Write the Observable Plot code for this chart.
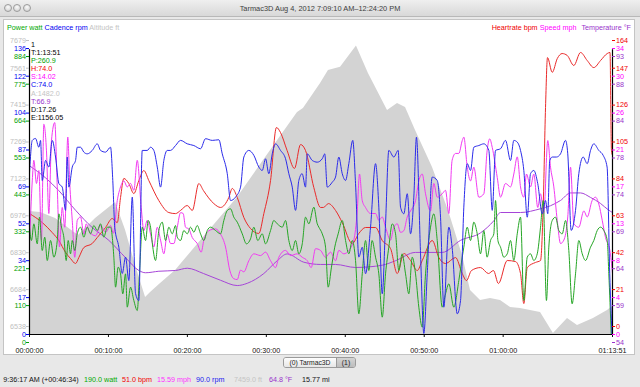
<!DOCTYPE html>
<html><head><meta charset="utf-8">
<script src="https://cdn.jsdelivr.net/npm/d3@7"></script>
<script src="https://cdn.jsdelivr.net/npm/@observablehq/plot@0.6"></script>
<style>
html,body{margin:0;padding:0;}
body{width:640px;height:387px;position:relative;overflow:hidden;background:#e8e8e8;font-family:"Liberation Sans",Arial,sans-serif;font-size:7.2px;}
.abs{position:absolute;white-space:nowrap;line-height:1;}
#titlebar{position:absolute;left:0;top:0;width:640px;height:16px;background:linear-gradient(#efefef,#d8d8d8);border-bottom:1px solid #b8b8b8;}
.dot{position:absolute;top:3.5px;width:6px;height:6px;border-radius:50%;border:0.6px solid #9c9c9c;background:radial-gradient(circle at 50% 35%,#fafafa,#cbcbcb);}
#panel{position:absolute;left:3px;top:19px;width:632px;height:336px;background:#fff;border:1px solid #c4c4c4;box-sizing:border-box;}
#tabs{position:absolute;left:283px;top:357px;width:73px;height:11px;border:1px solid #9a9a9a;border-radius:3px;box-sizing:border-box;overflow:hidden;display:flex;font-size:6.8px;color:#222;}
#tabs div{display:flex;align-items:center;justify-content:center;height:100%;}
#plotwrap svg{position:absolute;left:0;top:0;}
</style></head>
<body>
<div id="titlebar">
  <div class="dot" style="left:4px"></div>
  <div class="dot" style="left:13.3px"></div>
  <div class="dot" style="left:22.7px"></div>
  <div class="abs" style="left:0;width:640px;top:4.5px;text-align:center;color:#404040;font-size:7.4px;">Tarmac3D Aug 4, 2012 7:09:10 AM–12:24:20 PM</div>
</div>
<div id="panel"></div>
<div class="abs" style="left:7px;top:24px;"><span style="color:#00a800">Power watt</span> <span style="color:#0000f0">Cadence rpm</span> <span style="color:#c4c4c4">Altitude ft</span></div>
<div class="abs" style="right:9px;top:24px;"><span style="color:#f00000">Heartrate bpm</span> <span style="color:#ff00ff">Speed mph</span> <span style="color:#9933cc;margin-left:3px">Temperature °F</span></div>
<div id="plotwrap"></div>
<div id="info" class="abs" style="left:31px;top:41px;line-height:8.1px;"></div>
<div id="tabs"><div style="width:52px;background:linear-gradient(#fdfdfd,#e6e6e6);border-right:1px solid #9a9a9a;">(0) Tarmac3D</div><div style="flex:1;background:linear-gradient(#d4d4d4,#bcbcbc);">(1)</div></div>
<div id="status"></div>
<script>
// ---- data: [seconds elapsed, value] ----
const altitude = [[0,7025],[84,7021],[198,6997],[372,6930],[502,6997],[654,7060],[730,6950],[806,6811],[882,6684],[920,6704],[996,6740],[1110,6791],[1322,6922],[1581,7080],[1832,7266],[2037,7416],[2082,7432],[2212,7531],[2272,7583],[2364,7595],[2485,7679],[2576,7571],[2721,7424],[2797,7452],[2858,7436],[2934,7345],[3063,7199],[3184,7029],[3291,6851],[3352,6712],[3428,6673],[3504,6680],[3580,6673],[3656,6645],[3732,6641],[3884,6625],[3982,6542],[4089,6601],[4165,6574],[4286,6601],[4393,6633],[4431,6649]];

const heartrate = [[0,68.8],[97,63.7],[173,58.0],[223,53.5],[274,46.7],[312,43.2],[350,40.4],[375,43.8],[413,49.5],[477,51.8],[515,55.2],[578,60.9],[629,66.0],[667,63.7],[692,78.0],[717,88.8],[755,85.9],[793,80.2],[831,87.6],[869,93.3],[907,87.6],[983,76.2],[1059,69.4],[1110,68.8],[1148,70.6],[1199,73.4],[1237,70.6],[1287,85.9],[1322,81.9],[1401,74.5],[1452,72.3],[1515,78.0],[1541,83.1],[1579,78.0],[1629,66.6],[1680,60.3],[1743,57.5],[1781,68.8],[1832,87.6],[1877,117.8],[1908,114.9],[1958,104.7],[2014,94.5],[2060,108.1],[2098,104.7],[2161,83.6],[2212,72.3],[2234,72.3],[2272,74.5],[2326,70.6],[2377,63.7],[2453,51.8],[2503,57.5],[2554,60.9],[2630,60.9],[2681,53.5],[2744,48.9],[2795,34.7],[2845,46.1],[2896,42.1],[2947,36.4],[2985,42.1],[3061,53.5],[3111,43.8],[3162,40.4],[3238,43.8],[3289,34.7],[3321,30.7],[3359,36.4],[3428,38.1],[3488,34.7],[3526,36.4],[3564,29.0],[3631,42.1],[3694,41.5],[3732,34.7],[3757,17.6],[3783,38.1],[3846,41.0],[3884,42.1],[3904,72.3],[3922,129.2],[3937,157.6],[3973,149.2],[4011,157.0],[4048,159.9],[4087,158.8],[4137,153.1],[4188,160.5],[4239,155.9],[4289,151.9],[4340,155.9],[4391,159.9],[4412,160.5],[4423,104.7],[4431,101.9]];

const temperature = [[0,76.4],[122,74.8],[223,73.1],[350,70.5],[477,68.2],[603,66.5],[730,64.2],[831,62.5],[882,62.2],[983,62.4],[1110,62.5],[1199,62.8],[1322,62.1],[1452,61.2],[1579,60.5],[1655,60.8],[1781,62.1],[1883,63.8],[1958,64.7],[2085,63.6],[2212,63.3],[2326,63.3],[2478,62.9],[2681,63.2],[2782,63.8],[2934,64.9],[3137,64.9],[3276,66.5],[3428,67.5],[3529,69.1],[3580,70.2],[3732,70.2],[3884,70.7],[3960,71.1],[4036,71.8],[4112,72.8],[4188,72.8],[4264,72.2],[4340,71.4],[4403,70.5],[4431,70.2]];

const cadence = [[0,75.5],[21,91.0],[46,91.9],[71,87.8],[84,91.0],[97,72.2],[122,81.6],[147,78.5],[173,91.0],[198,83.2],[223,70.8],[249,69.1],[274,58.2],[287,83.2],[299,69.1],[325,78.5],[350,81.6],[363,87.8],[388,87.8],[413,85.5],[439,84.7],[477,86.3],[515,89.4],[540,86.3],[578,85.5],[616,87.8],[633,72.2],[648,50.3],[679,40.9],[705,28.6],[730,36.3],[755,25.3],[781,64.4],[806,19.2],[831,15.9],[857,86.3],[895,86.3],[920,87.8],[945,86.3],[971,78.5],[996,69.1],[1021,81.6],[1047,86.3],[1072,86.3],[1110,88.6],[1148,91.0],[1199,89.4],[1249,88.6],[1300,87.1],[1338,91.8],[1389,91.0],[1439,91.3],[1465,84.7],[1503,75.4],[1528,62.8],[1566,64.4],[1604,69.1],[1629,83.2],[1667,86.3],[1705,84.0],[1743,78.5],[1769,76.9],[1794,82.4],[1819,75.4],[1845,84.7],[1870,89.4],[1908,86.3],[1946,82.4],[1971,75.4],[1997,69.1],[2022,58.2],[2047,72.2],[2072,75.4],[2098,69.1],[2111,84.7],[2149,81.6],[2187,80.8],[2225,82.4],[2244,84.7],[2263,69.1],[2301,71.4],[2326,73.8],[2351,83.2],[2377,75.4],[2402,72.2],[2427,80.1],[2457,91.0],[2478,70.7],[2503,36.3],[2529,40.9],[2554,28.5],[2592,50.3],[2630,80.1],[2655,59.7],[2681,19.1],[2706,51.9],[2731,86.3],[2769,83.2],[2802,86.3],[2820,59.7],[2845,56.6],[2871,66.0],[2896,47.2],[2921,64.4],[2941,92.5],[2972,37.8],[2997,0.5],[3023,28.5],[3061,73.8],[3099,72.2],[3124,55.0],[3149,12.8],[3187,50.3],[3212,40.9],[3251,9.7],[3276,15.9],[3301,59.7],[3327,80.1],[3352,76.9],[3377,87.8],[3415,88.6],[3453,89.4],[3491,86.3],[3517,58.2],[3542,86.3],[3580,87.1],[3618,91.0],[3656,81.6],[3681,91.0],[3707,90.2],[3732,86.3],[3757,76.9],[3783,55.0],[3808,75.4],[3833,76.9],[3863,70.7],[3897,56.6],[3922,62.8],[3939,56.6],[3954,81.6],[3973,83.2],[4005,83.2],[4036,84.7],[4074,91.0],[4091,84.7],[4117,48.8],[4150,58.2],[4175,75.4],[4208,83.2],[4239,80.1],[4264,86.3],[4289,89.4],[4327,86.3],[4360,84.0],[4390,78.5],[4410,28.5],[4427,0.5]];

const speed = [[0,10.6],[21,17.9],[33,20.3],[53,17.6],[71,19.1],[91,11.0],[109,24.5],[129,21.4],[147,14.1],[167,22.6],[192,24.7],[211,17.2],[228,10.2],[249,14.8],[268,12.5],[291,23.0],[306,17.6],[325,13.3],[344,9.0],[363,13.3],[388,13.7],[413,11.7],[431,12.9],[451,12.1],[502,11.5],[540,12.7],[578,11.9],[616,12.7],[638,11.8],[667,15.6],[692,17.2],[717,17.9],[743,17.2],[768,17.6],[793,16.8],[819,20.3],[849,14.8],[869,12.1],[895,13.3],[920,11.7],[945,10.2],[971,12.5],[996,11.0],[1021,9.4],[1047,11.7],[1072,10.6],[1097,10.6],[1123,12.5],[1148,14.2],[1168,14.1],[1186,12.5],[1211,12.3],[1237,11.3],[1275,10.6],[1305,9.6],[1325,11.0],[1363,12.1],[1414,12.3],[1452,11.7],[1490,10.2],[1522,7.5],[1553,6.5],[1579,6.4],[1604,7.5],[1629,7.3],[1667,8.6],[1705,9.4],[1756,9.2],[1794,9.6],[1832,8.6],[1870,7.8],[1895,9.0],[1946,9.8],[1984,9.2],[2035,9.4],[2073,9.0],[2111,8.6],[2141,7.8],[2174,10.0],[2212,9.8],[2250,9.0],[2288,9.6],[2326,8.6],[2351,9.8],[2389,9.4],[2427,9.8],[2465,11.0],[2491,14.4],[2508,18.7],[2529,15.6],[2554,14.8],[2592,14.1],[2630,14.1],[2655,13.3],[2681,13.7],[2706,12.5],[2744,11.0],[2769,12.5],[2795,12.9],[2820,11.9],[2845,12.1],[2871,13.7],[2896,14.4],[2934,15.6],[2959,17.9],[2985,18.7],[3010,16.4],[3048,14.4],[3073,17.6],[3099,16.0],[3137,16.4],[3162,16.8],[3187,14.1],[3212,20.3],[3238,21.1],[3263,21.1],[3289,22.6],[3301,23.0],[3327,19.5],[3352,17.9],[3377,19.5],[3415,16.0],[3453,16.4],[3478,21.4],[3498,22.8],[3517,21.8],[3555,18.3],[3580,16.0],[3618,17.6],[3656,17.2],[3681,18.7],[3707,20.7],[3732,17.2],[3757,16.0],[3777,18.7],[3808,17.2],[3833,18.7],[3863,14.8],[3884,16.4],[3909,14.1],[3939,22.6],[3960,19.5],[3985,17.2],[4011,13.3],[4036,10.6],[4061,11.0],[4091,13.7],[4112,19.5],[4137,12.9],[4175,12.5],[4213,14.4],[4239,13.7],[4276,15.6],[4302,16.0],[4327,15.2],[4353,13.3],[4378,11.3],[4411,9.8],[4431,7.1]];

const power = [[0,322],[15,282],[33,332],[59,272],[76,352],[97,252],[116,292],[135,222],[160,282],[185,232],[211,282],[223,362],[243,322],[261,292],[279,222],[294,282],[312,242],[325,282],[344,252],[363,302],[388,322],[413,292],[439,322],[464,302],[489,327],[515,312],[540,332],[565,292],[591,322],[616,322],[641,232],[654,142],[674,202],[692,182],[709,122],[730,182],[743,82],[768,142],[793,102],[819,72],[836,182],[857,322],[882,282],[902,342],[920,322],[937,262],[958,222],[983,312],[1009,337],[1034,282],[1059,322],[1085,302],[1110,327],[1123,292],[1148,282],[1173,312],[1199,302],[1224,322],[1249,307],[1275,327],[1300,302],[1325,282],[1351,312],[1376,322],[1414,312],[1452,302],[1477,342],[1503,372],[1528,377],[1553,352],[1579,337],[1617,302],[1649,272],[1680,287],[1705,322],[1735,282],[1769,302],[1794,272],[1832,312],[1857,342],[1883,332],[1921,322],[1946,342],[1971,282],[1997,252],[2022,282],[2047,242],[2073,272],[2098,352],[2123,332],[2161,382],[2187,332],[2199,322],[2225,302],[2250,262],[2270,142],[2295,202],[2320,262],[2346,302],[2377,342],[2402,282],[2427,242],[2453,282],[2478,222],[2503,62],[2529,182],[2554,282],[2579,192],[2604,282],[2630,232],[2655,182],[2681,52],[2706,182],[2731,262],[2757,332],[2782,302],[2807,192],[2832,242],[2858,182],[2883,122],[2909,232],[2934,182],[2959,82],[2985,22],[3010,182],[3048,322],[3073,362],[3099,282],[3137,82],[3162,122],[3187,152],[3225,82],[3263,162],[3289,232],[3301,262],[3327,322],[3352,282],[3377,337],[3403,302],[3428,242],[3453,312],[3478,232],[3504,282],[3529,302],[3542,402],[3560,282],[3580,262],[3605,232],[3631,242],[3656,282],[3681,222],[3707,302],[3732,352],[3757,102],[3783,232],[3808,242],[3833,222],[3859,242],[3884,322],[3904,402],[3929,102],[3947,262],[3973,342],[3998,352],[4023,312],[4049,302],[4074,342],[4099,252],[4124,92],[4150,182],[4175,282],[4201,242],[4226,222],[4264,262],[4289,282],[4315,312],[4340,322],[4365,312],[4391,282],[4403,182],[4421,3]];

// ---- axis tick labels ----
const altitudeTicks    = [6538, 6684, 6830, 6976, 7123, 7269, 7415, 7561, 7679];
const cadenceTicks     = [0, 17, 34, 52, 69, 87, 104, 122, 136];
const powerTicks       = [0, 110, 221, 332, 443, 553, 664, 775, 884];
const heartrateTicks   = [0, 21, 42, 63, 84, 105, 126, 147, 164];
const speedTicks       = [0, 4, 8, 13, 17, 21, 26, 30, 34];
const temperatureTicks = [54, 59, 64, 69, 74, 78, 84, 88, 93];

const timeTicks      = [0, 600, 1200, 1800, 2400, 3000, 3600, 4431];
const timeTickLabels = ["00:00:00","00:10:00","00:20:00","00:30:00","00:40:00","00:50:00","01:00:00","01:13:51"];

const infoLines  = ["1","T:1:13:51","P:260.9","H:74.0","S:14.02","C:74.0","A:1482.0","T:66.9","D:17.26","E:1156.05"];
const infoColors = ["#000","#000","#00a000","#f00000","#ff00ff","#0000f0","#c4c4c4","#9933cc","#000","#000"];

const statusItems  = ["9:36:17 AM (+00:46:34)","190.0 watt","51.0 bpm","15.59 mph","90.0 rpm","7459.0 ft","64.8 °F","15.77 mi"];
const statusColors = ["#111","#00a800","#f00000","#ff30ff","#2020f0","#c4c4c4","#9933cc","#111"];
const statusX      = [3.3, 84, 122, 157, 196, 234, 269, 302];

// ---- axis definitions (value at bottom tick, value per tick interval) ----
const axes = {
  altitude:    {lo: 6538, step: 146,   color: "#d3d3d3", label: "#c0c0c0"},
  cadence:     {lo: 0,    step: 17.3,  color: "#2b2bea", label: "#0000f0"},
  power:       {lo: 0,    step: 110.7, color: "#25a625", label: "#00a000"},
  heartrate:   {lo: 0,    step: 21,    color: "#ea2a2a", label: "#f00000"},
  speed:       {lo: 0,    step: 4.3,   color: "#f23af2", label: "#ff00ff"},
  temperature: {lo: 54,   step: 4.9,   color: "#a645d8", label: "#9933cc"}
};
const N = k => d => (d[1] - axes[k].lo) / axes[k].step;
const lvl = (d, i) => i < 8 ? i : 7.75;
const tEnd = 4431;
const secPerPx = tEnd / 583;
const labelMap = new Map(timeTicks.map((t, i) => [t, timeTickLabels[i]]));

function line(data, k) {
  return Plot.line(data, {x: d => d[0], y: N(k), stroke: axes[k].color, strokeWidth: 1, curve: "monotone-x"});
}
function leftLabels(ticks, k, dy) {
  return [
    Plot.text(ticks, {y: lvl, text: d => String(d), frameAnchor: "left", textAnchor: "end", dx: -3.5, dy, fill: axes[k].label}),
    Plot.ruleY(ticks, {y: lvl, x1: () => -3 * secPerPx, x2: () => 0, dy, stroke: axes[k].label, strokeWidth: 1})
  ];
}
function rightLabels(ticks, k, dy) {
  return [
    Plot.text(ticks, {y: lvl, text: d => String(d), frameAnchor: "right", textAnchor: "start", dx: 3.5, dy, fill: axes[k].label}),
    Plot.ruleY(ticks, {y: lvl, x1: () => tEnd, x2: () => tEnd + 3 * secPerPx, dy, stroke: axes[k].label, strokeWidth: 1})
  ];
}

const chart = Plot.plot({
  width: 640, height: 387,
  marginLeft: 29, marginRight: 28, marginTop: 38.8, marginBottom: 53,
  style: {background: "transparent", fontFamily: "'Liberation Sans', Arial, sans-serif", fontSize: "7.2px", color: "#111", overflow: "visible"},
  x: {domain: [0, tEnd], ticks: timeTicks, tickFormat: d => labelMap.get(d), tickSize: 3, tickPadding: 10, label: null},
  y: {domain: [0, 8], axis: null},
  marks: [
    Plot.areaY(altitude, {x: d => d[0], y: N("altitude"), fill: axes.altitude.color, curve: "linear"}),
    line(temperature, "temperature"),
    line(heartrate, "heartrate"),
    line(speed, "speed"),
    line(power, "power"),
    line(cadence, "cadence"),
    Plot.ruleY([0], {stroke: "#000", strokeWidth: 1.2}),
    Plot.ruleX([0, tEnd], {y1: () => 0, y2: () => 7.72, stroke: "#000", strokeWidth: 1.2}),
    ...leftLabels(altitudeTicks, "altitude", -8),
    ...leftLabels(cadenceTicks, "cadence", 0),
    ...leftLabels(powerTicks, "power", 8),
    ...rightLabels(heartrateTicks, "heartrate", -8),
    ...rightLabels(speedTicks, "speed", 0),
    ...rightLabels(temperatureTicks, "temperature", 8)
  ]
});
document.getElementById("plotwrap").append(chart);

const info = document.getElementById("info");
infoLines.forEach((t, i) => {
  const d = document.createElement("div");
  d.textContent = t; d.style.color = infoColors[i];
  info.append(d);
});
const status = document.getElementById("status");
statusItems.forEach((t, i) => {
  const s = document.createElement("div");
  s.className = "abs"; s.textContent = t;
  s.style.left = statusX[i] + "px"; s.style.top = "375.5px"; s.style.color = statusColors[i];
  status.append(s);
});
</script>
</body></html>
